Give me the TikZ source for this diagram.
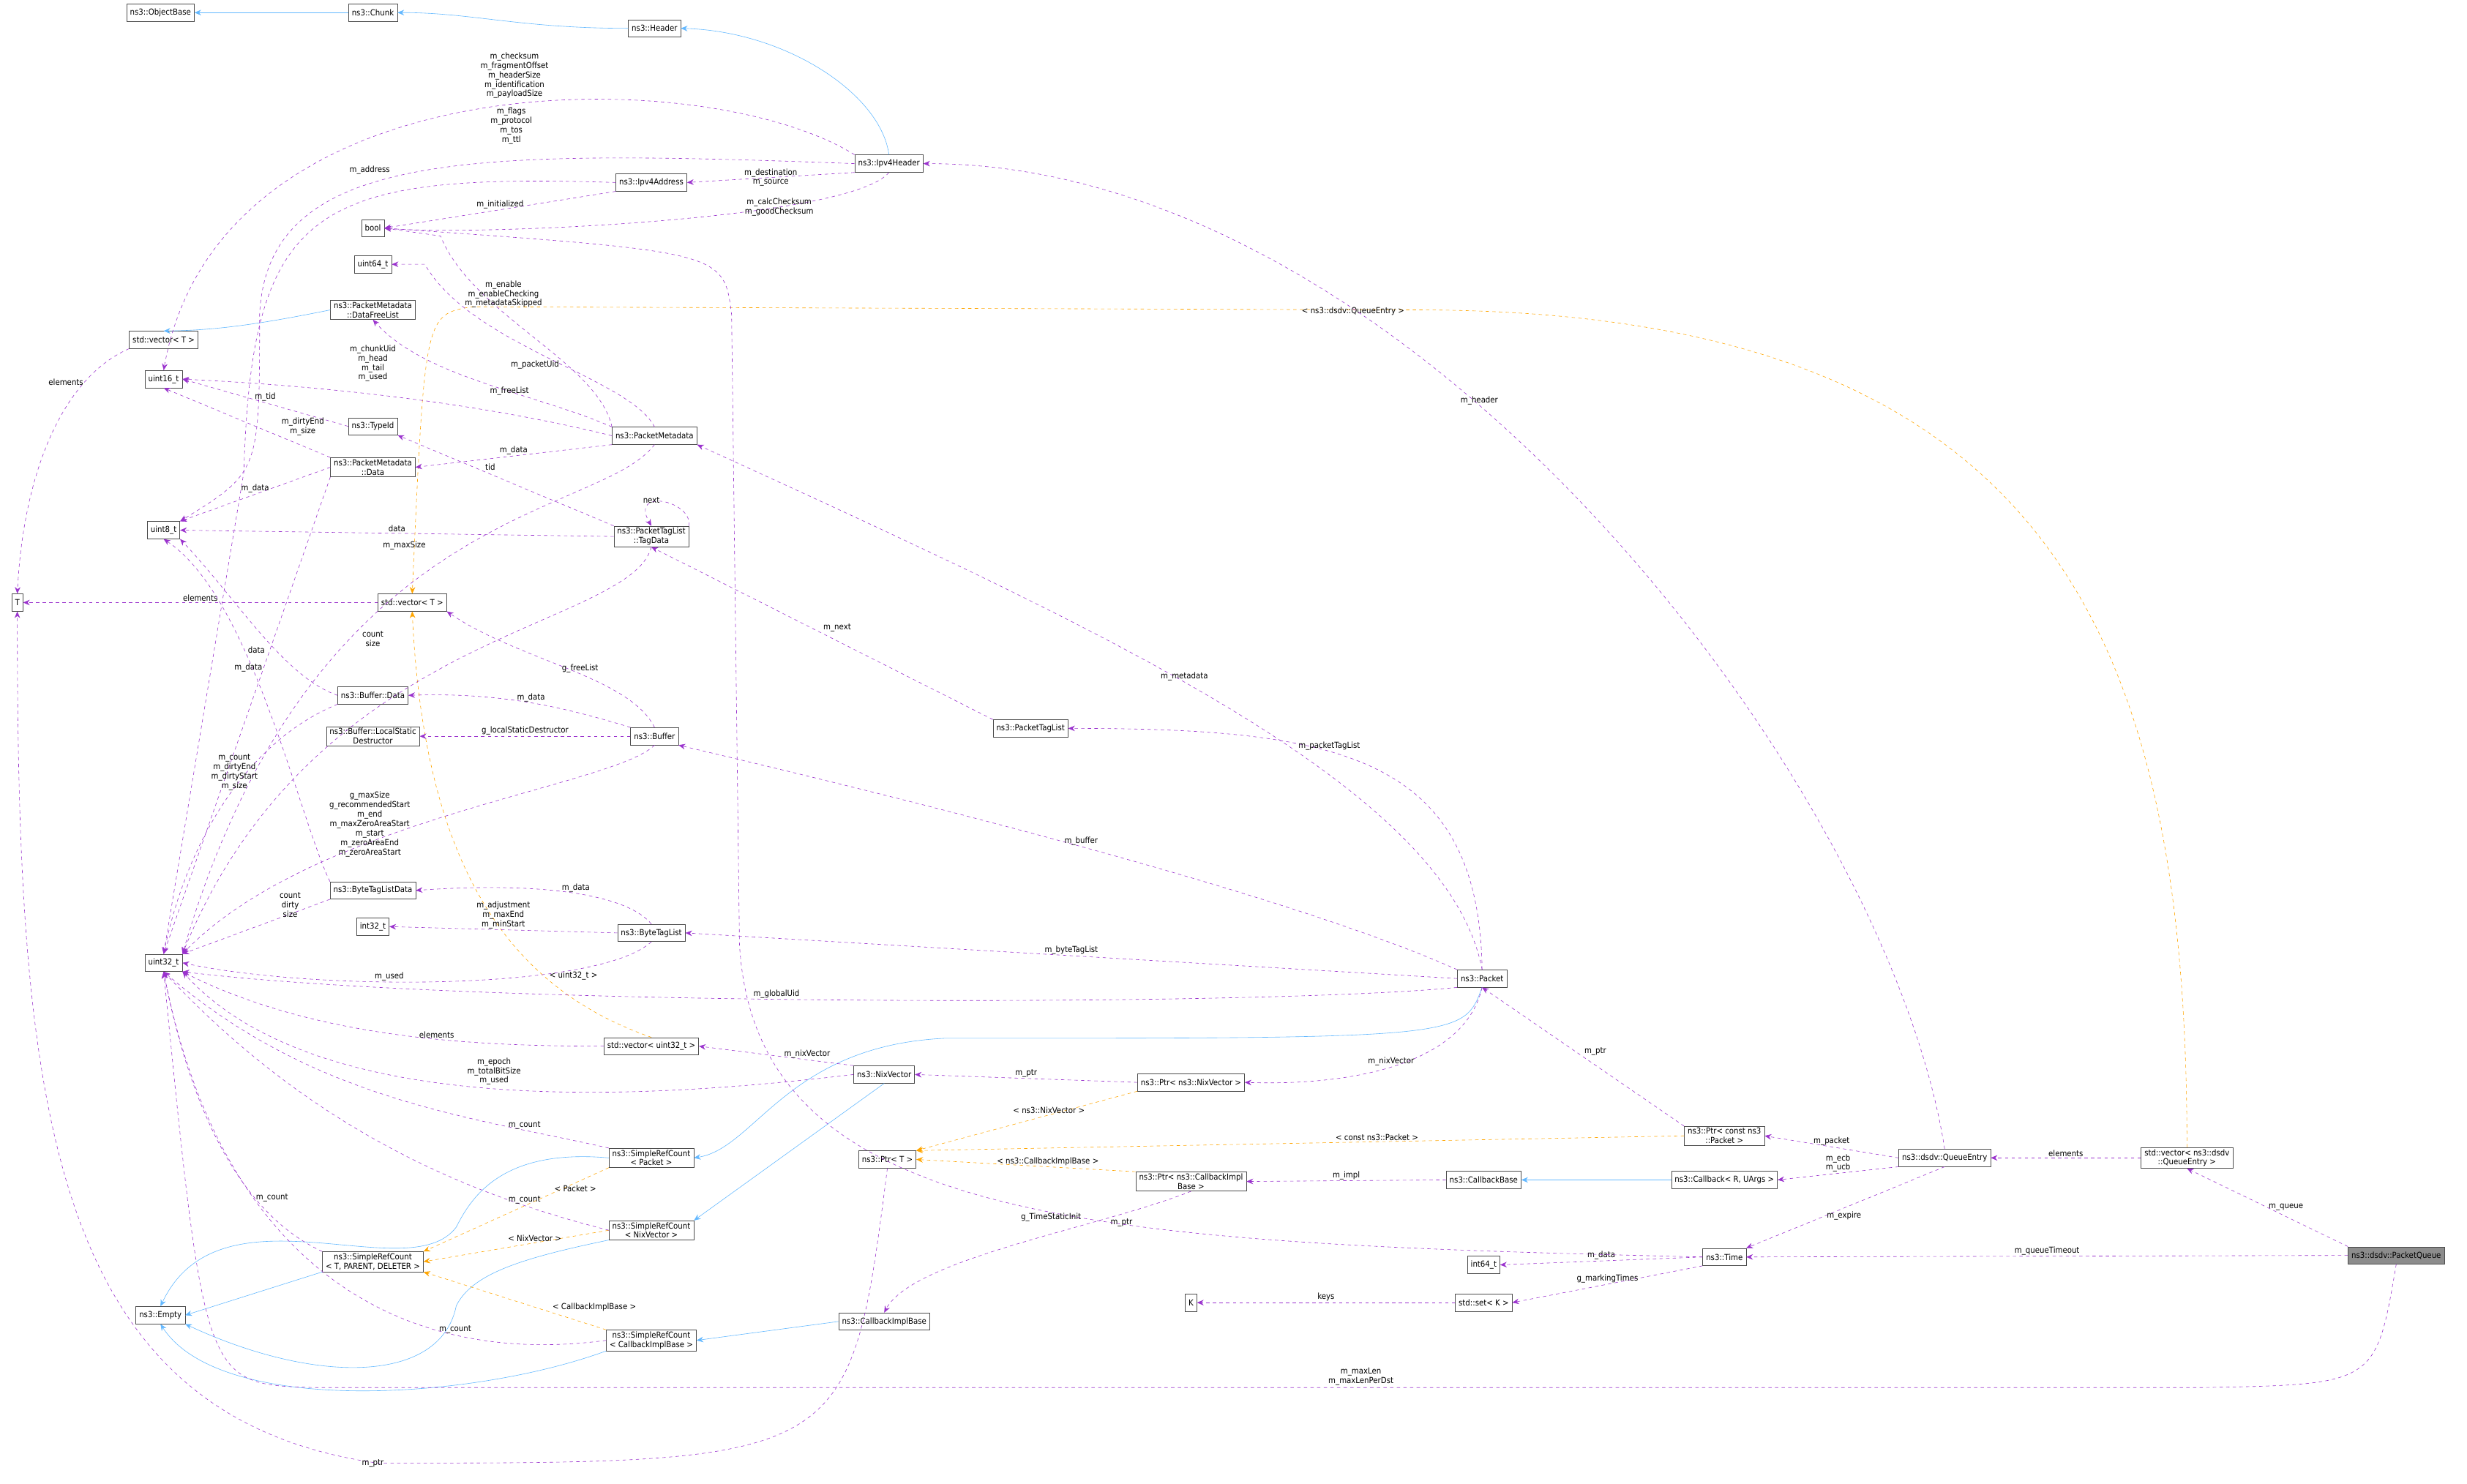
\documentclass[tikz,border=0pt]{standalone}
\usepackage{fontspec}
\setmainfont{DejaVu Sans Condensed}
\usetikzlibrary{positioning}
\usetikzlibrary{arrows.meta}
\definecolor{mempurple}{HTML}{9A32CD}
\definecolor{tplorange}{HTML}{FFA500}
\definecolor{inhblue}{HTML}{63B8FF}
\tikzset{
  cls/.style={draw=black!70,fill=white,font=\fontsize{7.5}{8.5}\selectfont,align=center,inner xsep=3pt,inner ysep=1.5pt,minimum height=0.55cm},
  lbl/.style={text=black,font=\fontsize{7.5}{8.5}\selectfont,align=center,inner sep=1pt},
  mem/.style={mempurple,dashed,-{Stealth[length=6pt,width=5pt]}},
  tpl/.style={tplorange,dashed,-{Stealth[length=6pt,width=5pt]}},
  inh/.style={inhblue,-{Stealth[length=6pt,width=5pt]}}
}
\begin{document}
\begin{tikzpicture}[x=0.05cm,y=-0.05cm]
	\useasboundingbox (0,0) rectangle (1568,943);
	% Classes %
	\node[cls] (objbase) at (102,8) {ns3::ObjectBase};
	\node[cls] (chunk) at (237,8) {ns3::Chunk};
	\node[cls] (header) at (416,18) {ns3::Header};
	\node[cls] (ipv4h) at (565,104) {ns3::Ipv4Header};
	\node[cls] (ipv4a) at (414,116) {ns3::Ipv4Address};
	\node[cls] (bool) at (237,145) {bool};
	\node[cls] (u64) at (237,168) {uint64\_t};
	\node[cls] (dfl) at (237,197) {ns3::PacketMetadata\\::DataFreeList};
	\node[cls] (vecT) at (104,216) {std::vector< T >};
	\node[cls] (u16) at (104,241) {uint16\_t};
	\node[cls] (typeid) at (237,271) {ns3::TypeId};
	\node[cls] (pmdata) at (237,297) {ns3::PacketMetadata\\::Data};
	\node[cls] (pmeta) at (416,277) {ns3::PacketMetadata};
	\node[cls] (u8) at (104,337) {uint8\_t};
	\node[cls] (tagdata) at (414,341) {ns3::PacketTagList\\::TagData};
	\node[cls] (T) at (11,383) {T};
	\node[cls] (vecTb) at (262,383) {std::vector< T >};
	\node[cls] (bufdata) at (237,442) {ns3::Buffer::Data};
	\node[cls] (lsd) at (237,468) {ns3::Buffer::LocalStatic\\Destructor};
	\node[cls] (buffer) at (416,468) {ns3::Buffer};
	\node[cls] (ptl) at (655,463) {ns3::PacketTagList};
	\node[cls] (btld) at (237,566) {ns3::ByteTagListData};
	\node[cls] (i32) at (237,589) {int32\_t};
	\node[cls] (btl) at (414,593) {ns3::ByteTagList};
	\node[cls] (u32) at (104,612) {uint32\_t};
	\node[cls] (packet) at (942,622) {ns3::Packet};
	\node[cls] (vecu32) at (414,665) {std::vector< uint32\_t >};
	\node[cls] (nixvec) at (562,683) {ns3::NixVector};
	\node[cls] (ptrnix) at (757,688) {ns3::Ptr< ns3::NixVector >};
	\node[cls] (ptrpkt) at (1096,722) {ns3::Ptr< const ns3\\::Packet >};
	\node[cls] (srcpkt) at (414,736) {ns3::SimpleRefCount\\< Packet >};
	\node[cls] (ptrT) at (564,737) {ns3::Ptr< T >};
	\node[cls] (qentry) at (1236,736) {ns3::dsdv::QueueEntry};
	\node[cls] (vecqe) at (1390,736) {std::vector< ns3::dsdv\\::QueueEntry >};
	\node[cls] (ptrcib) at (757,751) {ns3::Ptr< ns3::CallbackImpl\\Base >};
	\node[cls] (cbbase) at (943,750) {ns3::CallbackBase};
	\node[cls] (cb) at (1096,750) {ns3::Callback< R, UArgs >};
	\node[cls] (srcnix) at (414,782) {ns3::SimpleRefCount\\< NixVector >};
	\node[cls] (srcgen) at (237,802) {ns3::SimpleRefCount\\< T, PARENT, DELETER >};
	\node[cls] (i64) at (943,804) {int64\_t};
	\node[cls] (time) at (1096,799) {ns3::Time};
	\node[cls,fill=black!45] (pq) at (1523,798) {ns3::dsdv::PacketQueue};
	\node[cls] (empty) at (102,836) {ns3::Empty};
	\node[cls] (K) at (757,828) {K};
	\node[cls] (setK) at (943,828) {std::set< K >};
	\node[cls] (cib) at (562,840) {ns3::CallbackImplBase};
	\node[cls] (srccib) at (414,852) {ns3::SimpleRefCount\\< CallbackImplBase >};
	% Inheritance %
	\draw[inh] (chunk) -- (objbase);
	\draw[inh] (header.west) .. controls (330,18) and (300,8) .. (chunk);
	\draw[inh] (ipv4h.north) .. controls (560,60) and (500,20) .. (header.east);
	\draw[inh] (dfl.west) .. controls (170,205) and (140,210) .. (vecT.north);
	\draw[inh] (nixvec.south) -- (srcnix.north east);
	\draw[inh] (packet.south) .. controls (930,660) .. (600,660) .. controls (500,665) and (480,730) .. (srcpkt.east);
	\draw[inh] (srcpkt.west) .. controls (320,730) and (300,760) .. (290,780) .. controls (260,820) and (140,750) .. (empty.north);
	\draw[inh] (srcnix.south west) .. controls (330,800) and (300,810) .. (290,830) .. controls (280,880) and (200,880) .. (empty.south east);
	\draw[inh] (srcgen.south west) -- (empty.east);
	\draw[inh] (srccib.south west) .. controls (300,890) and (140,900) .. (empty.south);
	\draw[inh] (cib.west) -- (srccib.east);
	\draw[inh] (cb) -- (cbbase);
	% Templates %
	\draw[tpl] (vecqe.north) .. controls (1390,400) and (1300,197) .. (900,197) -- (300,195) .. controls (270,200) .. (vecTb.north);
	\node[lbl] at (860,198) {< ns3::dsdv::QueueEntry >};
	\draw[tpl] (vecu32.north) .. controls (330,630) and (270,560) .. node[lbl,pos=0.3,right=4pt] {< uint32\_t >} (vecTb.south);
	\draw[tpl] (ptrnix.south west) -- node[lbl,pos=0.4,above] {< ns3::NixVector >} (ptrT.north east);
	\draw[tpl] (ptrpkt.west) -- node[lbl,pos=0.4,above] {< const ns3::Packet >} (ptrT.north east);
	\draw[tpl] (ptrcib.north west) -- node[lbl,pos=0.4,above] {< ns3::CallbackImplBase >} (ptrT.east);
	\draw[tpl] (srcpkt.south west) -- node[lbl,pos=0.3,above right] {< Packet >} (srcgen.north east);
	\draw[tpl] (srcnix.west) -- node[lbl,pos=0.4,above] {< NixVector >} (srcgen.east);
	\draw[tpl] (srccib.north west) -- node[lbl,pos=0.3,above right] {< CallbackImplBase >} (srcgen.south east);
	% Members %
	\draw[mem] (ipv4h.north west) .. controls (450,40) and (140,35) .. (u16.north);
	\node[lbl] at (327,48) {m\_checksum\\m\_fragmentOffset\\m\_headerSize\\m\_identification\\m\_payloadSize};
	\draw[mem] (ipv4h.west) .. controls (300,95) and (170,95) .. (165,200) .. controls (165,300) .. (u8.north east);
	\node[lbl] at (325,80) {m\_flags\\m\_protocol\\m\_tos\\m\_ttl};
	\draw[mem] (ipv4h.south west) -- node[lbl] {m\_destination\\m\_source} (ipv4a.east);
	\draw[mem] (ipv4h.south) .. controls (540,140) and (300,150) .. node[lbl,pos=0.3] {m\_calcChecksum\\m\_goodChecksum} (bool.east);
	\draw[mem] (ipv4a.west) .. controls (200,110) and (160,130) .. (155,300) -- (u32.north);
	\node[lbl] at (235,108) {m\_address};
	\draw[mem] (ipv4a.south west) -- node[lbl,above] {m\_initialized} (bool.east);
	\draw[mem] (vecT.south west) .. controls (40,240) and (15,300) .. node[lbl,pos=0.25,left] {elements} (T.north);
	\draw[mem] (pmeta.north west) .. controls (380,230) and (300,200) .. (280,150) -- (bool.east);
	\node[lbl] at (320,187) {m\_enable\\m\_enableChecking\\m\_metadataSkipped};
	\draw[mem] (pmeta.north) .. controls (400,240) and (300,220) .. (270,168) -- (u64.east);
	\node[lbl] at (340,232) {m\_packetUid};
	\draw[mem] (pmeta.north west) .. controls (340,250) and (270,240) .. node[lbl,pos=0.4] {m\_freeList} (dfl.south);
	\draw[mem] (pmeta.west) .. controls (300,255) and (200,245) .. (u16.east);
	\node[lbl] at (237,231) {m\_chunkUid\\m\_head\\m\_tail\\m\_used};
	\draw[mem] (pmeta.south west) -- node[lbl,above] {m\_data} (pmdata.east);
	\draw[mem] (pmeta.south) .. controls (380,330) and (200,320) .. (u32.north east);
	\node[lbl] at (257,347) {m\_maxSize};
	\draw[mem] (typeid.west) -- node[lbl,above] {m\_tid} (u16.east);
	\draw[mem] (pmdata.north west) -- node[lbl,pos=0.3,above right] {m\_dirtyEnd\\m\_size} (u16.south);
	\draw[mem] (pmdata.west) -- node[lbl,above] {m\_data} (u8.north east);
	\draw[mem] (pmdata.south west) -- node[lbl,pos=0.4,left] {m\_data} (u32.north);
	\draw[mem] (tagdata.north west) -- node[lbl,pos=0.6,above right] {tid} (typeid.south east);
	\draw[mem] (tagdata.west) -- node[lbl,above] {data} (u8.east);
	\draw[mem] (tagdata.north east) .. controls (440,318) and (400,310) .. (tagdata.north);
	\node[lbl] at (414,318) {next};
	\draw[mem] (tagdata.south) .. controls (400,400) and (200,400) .. (u32.north east);
	\node[lbl] at (237,406) {count\\size};
	\draw[mem] (vecTb.west) -- node[lbl,above] {elements} (T.east);
	\draw[mem] (bufdata.west) .. controls (180,430) and (150,380) .. (u8.south east);
	\node[lbl] at (163,413) {data};
	\draw[mem] (bufdata.south west) .. controls (160,470) and (120,530) .. (u32.north);
	\node[lbl] at (149,491) {m\_count\\m\_dirtyEnd\\m\_dirtyStart\\m\_size};
	\draw[mem] (buffer.north) .. controls (400,430) and (330,420) .. node[lbl,pos=0.45,above] {g\_freeList} (vecTb.south east);
	\draw[mem] (buffer.north west) .. controls (360,450) and (320,440) .. node[lbl,pos=0.5,above] {m\_data} (bufdata.east);
	\draw[mem] (buffer.west) -- node[lbl,above] {g\_localStaticDestructor} (lsd.east);
	\draw[mem] (buffer.south) .. controls (390,500) and (200,520) .. (u32.north east);
	\node[lbl] at (235,524) {g\_maxSize\\g\_recommendedStart\\m\_end\\m\_maxZeroAreaStart\\m\_start\\m\_zeroAreaEnd\\m\_zeroAreaStart};
	\draw[mem] (ptl.north west) -- node[lbl,pos=0.5,above right] {m\_next} (tagdata.south);
	\draw[mem] (btld.north west) .. controls (190,520) and (160,380) .. (u8.south);
	\draw[mem] (btld.south west) -- node[lbl,pos=0.35,above right] {count\\dirty\\size} (u32.north east);
	\draw[mem] (btl.north) .. controls (400,570) and (350,560) .. node[lbl,pos=0.5,above] {m\_data} (btld.east);
	\draw[mem] (btl.west) -- node[lbl,above] {m\_adjustment\\m\_maxEnd\\m\_minStart} (i32.east);
	\draw[mem] (btl.south) .. controls (380,630) and (200,630) .. node[lbl,pos=0.6,above] {m\_used} (u32.east);
	\draw[mem] (packet.north) .. controls (920,500) and (700,400) .. node[lbl,pos=0.55,above] {m\_metadata} (pmeta.south east);
	\draw[mem] (packet.north) .. controls (940,480) and (850,463) .. node[lbl,pos=0.6,above] {m\_packetTagList} (ptl.east);
	\draw[mem] (packet.north west) .. controls (800,560) and (500,490) .. node[lbl,pos=0.45,above] {m\_buffer} (buffer.south east);
	\draw[mem] (packet.west) -- node[lbl,pos=0.5,above] {m\_byteTagList} (btl.east);
	\draw[mem] (packet.south west) .. controls (800,640) and (300,640) .. node[lbl,pos=0.55,above] {m\_globalUid} (u32.south east);
	\draw[mem] (packet.south) .. controls (930,680) and (850,690) .. node[lbl,pos=0.5,above] {m\_nixVector} (ptrnix.east);
	\draw[mem] (vecu32.west) .. controls (300,665) and (200,660) .. node[lbl,pos=0.4,above] {elements} (u32.south east);
	\draw[mem] (nixvec.north west) -- node[lbl,pos=0.3,above] {m\_nixVector} (vecu32.east);
	\draw[mem] (nixvec.west) .. controls (400,700) and (200,710) .. (u32.south east);
	\node[lbl] at (314,681) {m\_epoch\\m\_totalBitSize\\m\_used};
	\draw[mem] (ptrnix.west) -- node[lbl,above] {m\_ptr} (nixvec.east);
	\draw[mem] (ptrpkt.north west) -- node[lbl,pos=0.5,above right] {m\_ptr} (packet.south);
	\draw[mem] (srcpkt.north west) .. controls (300,710) and (200,700) .. node[lbl,pos=0.2,above] {m\_count} (u32.south);
	\draw[mem] (srcnix.west) .. controls (300,760) and (200,720) .. node[lbl,pos=0.2,above] {m\_count} (u32.south);
	\draw[mem] (srcgen.north west) .. controls (150,770) and (120,700) .. node[lbl,pos=0.3,right] {m\_count} (u32.south);
	\draw[mem] (srccib.west) .. controls (250,870) and (140,800) .. node[lbl,pos=0.25,above] {m\_count} (u32.south);
	\draw[mem] (ptrT.south) .. controls (540,930) .. (240,930) .. controls (30,900) and (11,700) .. (T.south);
	\node[lbl] at (237,930) {m\_ptr};
	\draw[mem] (qentry.north) .. controls (1200,500) and (900,104) .. node[lbl,pos=0.6,above] {m\_header} (ipv4h.east);
	\draw[mem] (qentry.west) -- node[lbl,above] {m\_packet} (ptrpkt.east);
	\draw[mem] (qentry.south west) -- node[lbl,above] {m\_ecb\\m\_ucb} (cb.east);
	\draw[mem] (qentry.south) -- node[lbl,pos=0.6,right] {m\_expire} (time.north east);
	\draw[mem] (vecqe.west) -- node[lbl,above] {elements} (qentry.east);
	\draw[mem] (ptrcib.south) .. controls (700,780) and (580,800) .. node[lbl,pos=0.25,below right] {m\_ptr} (cib.north);
	\draw[mem] (cbbase.west) -- node[lbl,above] {m\_impl} (ptrcib.east);
	\draw[mem] (time.west) -- node[lbl,above] {m\_data} (i64.east);
	\draw[mem] (time.south west) -- node[lbl,above] {g\_markingTimes} (setK.east);
	\draw[mem] (time.west) .. controls (700,790) and (480,780) .. (470,600) -- (465,200) .. controls (460,160) .. (bool.east);
	\node[lbl] at (668,774) {g\_TimeStaticInit};
	\draw[mem] (setK.west) -- node[lbl,above] {keys} (K.east);
	\draw[mem] (pq.north west) -- node[lbl,right] {m\_queue} (vecqe.south);
	\draw[mem] (pq.west) -- node[lbl,above] {m\_queueTimeout} (time.east);
	\draw[mem] (pq.south) .. controls (1510,880) .. (1400,882) -- (200,882) .. controls (130,880) .. (u32.south);
	\node[lbl] at (865,875) {m\_maxLen\\m\_maxLenPerDst};
\end{tikzpicture}
\end{document}
